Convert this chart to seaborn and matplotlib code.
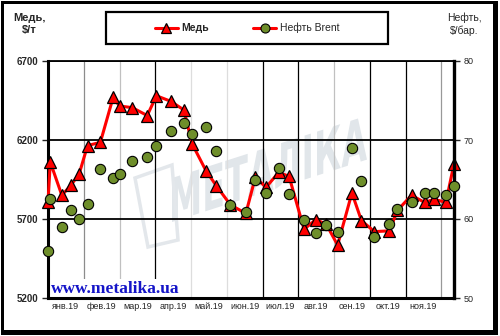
import numpy as np
import pandas as pd
import matplotlib
matplotlib.use("Agg")
import matplotlib.pyplot as plt
import seaborn as sns
from matplotlib.patches import Rectangle, PathPatch, Polygon
from matplotlib.textpath import TextPath
from matplotlib.font_manager import FontProperties
from matplotlib.transforms import Affine2D, IdentityTransform
from matplotlib.lines import Line2D

# ---- data -------------------------------------------------------------
dates = ["2019-01-01", "2019-01-03", "2019-01-13", "2019-01-21", "2019-01-28",
         "2019-02-04", "2019-02-14", "2019-02-24", "2019-03-01", "2019-03-12",
         "2019-03-25", "2019-04-02", "2019-04-14", "2019-04-25", "2019-05-02",
         "2019-05-14", "2019-05-23", "2019-06-04", "2019-06-17", "2019-06-25",
         "2019-07-04", "2019-07-15", "2019-07-24", "2019-08-06", "2019-08-16",
         "2019-08-25", "2019-09-04", "2019-09-16", "2019-09-24", "2019-10-05",
         "2019-10-18", "2019-10-25", "2019-11-06", "2019-11-17", "2019-11-25",
         "2019-12-05", "2019-12-12"]

copper = [5810, 6060, 5850, 5915, 5985, 6165, 6185, 6470, 6415, 6405,
          6355, 6480, 6445, 6390, 6175, 6005, 5910, 5790, 5735, 5965,
          5900, 5995, 5970, 5635, 5695, 5670, 5535, 5865, 5690, 5620,
          5625, 5755, 5850, 5805, 5825, 5805, 6050]

brent = [56.0, 62.5, 59.0, 61.2, 60.0, 61.9, 66.3, 65.2, 65.7, 67.3,
         67.9, 69.3, 71.1, 72.2, 70.8, 71.7, 68.6, 61.8, 60.9, 65.0,
         63.3, 66.5, 63.2, 59.9, 58.2, 59.3, 58.3, 69.0, 64.8, 57.7,
         59.4, 61.3, 62.1, 63.3, 63.3, 63.0, 64.2]

month_labels = ["янв.19", "фев.19", "мар.19", "апр.19", "май.19", "июн.19",
                "июл.19", "авг.19", "сен.19", "окт.19", "ноя.19"]

copper_ticks = [5200, 5700, 6200, 6700]
brent_ticks = [50, 60, 70, 80]


def month_pos(d):
    """Position on a month axis where every month has the same width."""
    ts = pd.Timestamp(d)
    return (ts.month - 1) + (ts.day - 1) / ts.days_in_month


df = pd.DataFrame({"x": [month_pos(d) for d in dates],
                   "copper": copper, "brent": brent})

# ---- style ------------------------------------------------------------
sns.set_style("white")
plt.rcParams["font.family"] = ["Liberation Sans", "DejaVu Sans"]

RED = "#ff0000"
OLIVE = "#6e8e2a"
W, H = 500, 336

fig = plt.figure(figsize=(W / 100, H / 100), dpi=100)
fig.patch.set_facecolor("white")


def fx(x):
    return x / W


def fy(y):
    return 1 - y / H


# outer frame with a drop shadow
fig.add_artist(Rectangle((fx(1), fy(335)), 497 / W, 334 / H, transform=fig.transFigure,
                         facecolor="black", edgecolor="none", zorder=-10))
fig.add_artist(Rectangle((fx(3.5), fy(329.5)), 489.5 / W, 326 / H, transform=fig.transFigure,
                         facecolor="white", edgecolor="none", zorder=-9))

# faint logo watermark behind the plot
tp = TextPath((0, 0), "МЕТАЛІКА", size=100,
              prop=FontProperties(family="DejaVu Sans", weight="bold"))
ext = tp.get_extents()
shear = Affine2D(np.array([[1, 0, 0], [0.32, 1, 0], [0, 0, 1]]))
wm_tr = (Affine2D().translate(-ext.x0, -ext.y0)
         .scale(195 / ext.width, 44 / ext.height)
         + shear + Affine2D().translate(172, H - 222))
fig.add_artist(PathPatch(wm_tr.transform_path(tp), transform=IdentityTransform(),
                         facecolor="#e1e6ea", edgecolor="none", zorder=-5))
fig.add_artist(Polygon([(135, H - 178), (172, H - 165), (178, H - 240), (148, H - 247)],
                       closed=True, transform=IdentityTransform(), fill=False,
                       edgecolor="#e3e7eb", linewidth=2.5, zorder=-5))

# ---- axes -------------------------------------------------------------
ax = fig.add_axes([fx(48), fy(298), 406 / W, 237 / H])
ax.set_facecolor("none")

sns.lineplot(data=df, x="x", y="copper", ax=ax, color=RED, linewidth=2.2,
             marker="^", markersize=8, markerfacecolor=RED,
             markeredgecolor="black", markeredgewidth=0.9,
             sort=False, legend=False, clip_on=False, zorder=3)

ax.set_xlim(0, df["x"].iloc[-1])
ax.set_ylim(copper_ticks[0], copper_ticks[-1])
ax.set_yticks(copper_ticks)
ax.set_xticks(range(1, 12))
ax.set_xticklabels([])
ax.set_xticks(np.arange(len(month_labels)) + 0.5, minor=True)
ax.set_xticklabels(month_labels, minor=True, fontsize=6.5)
ax.tick_params(axis="x", which="both", length=0, pad=3)
ax.tick_params(axis="y", length=4.5, width=1, pad=2.5, labelsize=7, direction="out", left=True)
for lbl in ax.get_yticklabels():
    lbl.set_fontweight("bold")
ax.set_xlabel("")
ax.set_ylabel("")

ax.set_axisbelow(True)
ax.grid(axis="y", color="black", linewidth=1.3)
ax.grid(axis="x", which="major", linewidth=0.9)
vline_colors = ["#8c8c8c", "#c0c0c0", "black", "#dddddd", "#dddddd", "black",
                "black", "#c0c0c0", "black", "black", "#999999"]
for gl, c in zip(ax.get_xgridlines(), vline_colors):
    gl.set_color(c)

for side in ["left", "bottom"]:
    ax.spines[side].set_linewidth(2.2)
    ax.spines[side].set_color("black")
ax.spines["top"].set_linewidth(1.3)
ax.spines["top"].set_color("black")
ax.spines["right"].set_visible(False)

ax2 = ax.twinx()
sns.scatterplot(data=df, x="x", y="brent", ax=ax2, color=OLIVE, edgecolor="black",
                linewidth=0.8, s=55, legend=False, zorder=4, clip_on=False)
ax2.set_ylim(brent_ticks[0], brent_ticks[-1])
ax2.set_yticks(brent_ticks)
ax2.tick_params(axis="y", length=4.5, width=1, pad=2.5, labelsize=6.5, direction="out", right=True)
ax2.set_xlabel("")
ax2.set_ylabel("")
for side in ["left", "top", "bottom"]:
    ax2.spines[side].set_visible(False)
ax2.spines["right"].set_linewidth(2.4)
ax2.spines["right"].set_color("black")
ax2.grid(False)

# site address in the lower-left corner of the plot
ax.text(fx(51), fy(293), "www.metalika.ua", transform=fig.transFigure,
        fontfamily="Liberation Serif", fontweight="bold", fontsize=12.5,
        color="#1414c8", ha="left", va="baseline", zorder=1, clip_on=False,
        bbox=dict(facecolor="white", edgecolor="none", pad=1.5))

# axis titles
fig.text(fx(29), fy(24), "Медь,\n$/т", ha="center", va="center",
         fontsize=8, fontweight="bold", linespacing=1.3)
fig.text(fx(464), fy(24), "Нефть,\n$/бар.", ha="center", va="center",
         fontsize=7.5, linespacing=1.3)

# legend box
fig.add_artist(Rectangle((fx(106), fy(44)), 282 / W, 32 / H, transform=fig.transFigure,
                         facecolor="white", edgecolor="black", linewidth=1.6, zorder=5))
handles = [
    Line2D([], [], color=RED, lw=2.2, marker="^", ms=7, mfc=RED, mec="black", mew=0.9),
    Line2D([], [], color=RED, lw=2.2, marker="o", ms=6.5, mfc=OLIVE, mec="black", mew=0.8),
]
leg = fig.legend(handles, ["Медь", "Нефть Brent"], loc="center",
                 bbox_to_anchor=(fx(247), fy(28)), ncol=2, frameon=False,
                 fontsize=7.5, handlelength=2.2, handletextpad=0.3, columnspacing=4.3)
leg.set_zorder(6)
leg.get_texts()[0].set_fontweight("bold")

fig.savefig("out.png", dpi=100, facecolor="white")
